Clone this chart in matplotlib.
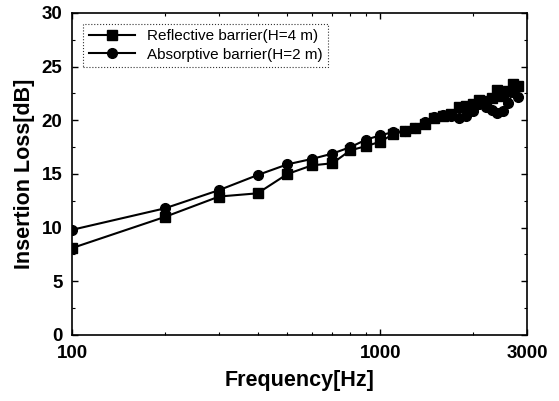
import matplotlib
matplotlib.use("Agg")
import matplotlib.pyplot as plt
from matplotlib.ticker import FixedLocator, NullFormatter, MultipleLocator

plt.rcParams['font.family'] = ['Liberation Sans', 'DejaVu Sans']

freq = [100, 200, 300, 400, 500, 600, 700, 800, 900, 1000, 1100, 1200, 1300, 1400,
        1500, 1600, 1700, 1800, 1900, 2000, 2100, 2200, 2300, 2400, 2500, 2600, 2700, 2800]
reflective = [8.1, 11.0, 12.9, 13.2, 15.0, 15.8, 16.0, 17.2, 17.6, 18.0, 18.7, 19.0, 19.3, 19.7,
              20.2, 20.4, 20.6, 21.2, 21.3, 21.5, 21.9, 21.8, 22.1, 22.8, 22.3, 22.7, 23.4, 23.2]
absorptive = [9.8, 11.8, 13.5, 14.9, 15.9, 16.4, 16.9, 17.5, 18.2, 18.6, 18.9, 19.0, 19.3, 19.8,
              20.3, 20.5, 20.4, 20.2, 20.4, 20.9, 21.5, 21.2, 21.0, 20.7, 20.9, 21.6, 22.6, 22.2]
labels = ["Reflective barrier(H=4 m)", "Absorptive barrier(H=2 m)"]
xticks = [100, 1000, 3000]
xticklabels = ["100", "1000", "3000"]

fig = plt.figure(figsize=(5.59, 4.01), dpi=100)
ax = fig.add_axes([0.129, 0.1646, 0.814, 0.803])
ax.plot(freq, reflective, color='black', marker='s', markersize=6.5, linewidth=1.5, label=labels[0])
ax.plot(freq, absorptive, color='black', marker='o', markersize=7, linewidth=1.5, label=labels[1])
ax.set_xscale('log')
ax.set_xlim(100, 3000)
ax.set_ylim(0, 30)
ax.xaxis.set_major_locator(FixedLocator(xticks))
ax.set_xticklabels(xticklabels)
ax.xaxis.set_minor_locator(FixedLocator([200, 300, 400, 500, 600, 700, 800, 900, 2000]))
ax.xaxis.set_minor_formatter(NullFormatter())
ax.yaxis.set_major_locator(MultipleLocator(5))
ax.yaxis.set_minor_locator(MultipleLocator(2.5))
ax.tick_params(which='both', direction='in', top=True, right=True)
ax.tick_params(which='major', length=4, width=1, pad=7)
ax.tick_params(which='minor', length=2, width=0.8)
for lab in ax.get_xticklabels() + ax.get_yticklabels():
    lab.set_fontweight('bold')
    lab.set_fontsize(13.5)
for s in ax.spines.values():
    s.set_linewidth(1.2)
ax.set_xlabel("Frequency[Hz]", fontsize=15.5, fontweight='bold', labelpad=6)
ax.set_ylabel("Insertion Loss[dB]", fontsize=15.5, fontweight='bold', labelpad=5)
leg = ax.legend(loc='upper left', fontsize=11, frameon=True, fancybox=False,
                borderpad=0.35, handlelength=3.0, labelspacing=0.3,
                bbox_to_anchor=(0.008, 0.99))
leg.get_frame().set_edgecolor('black')
leg.get_frame().set_linestyle(':')
leg.get_frame().set_linewidth(0.8)
fig.savefig("out.png", dpi=100)
